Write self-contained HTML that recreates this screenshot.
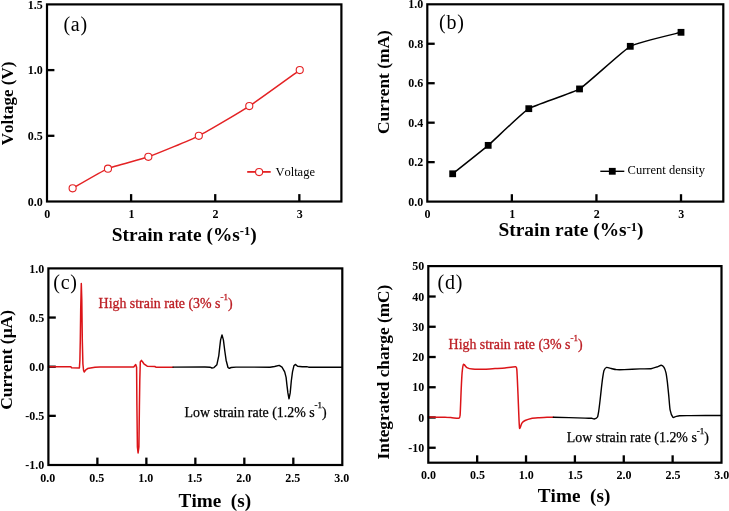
<!DOCTYPE html>
<html><head><meta charset="utf-8"><title>Figure</title>
<style>
html,body{margin:0;padding:0;background:#fff;}
body{width:729px;height:511px;overflow:hidden;}
svg{display:block;will-change:transform;font-family:'Liberation Serif', serif;font-kerning:none;font-feature-settings:'kern' 0,'liga' 0;}
</style></head>
<body>
<svg width="729" height="511" viewBox="0 0 729 511">
<rect width="729" height="511" fill="#fff"/>
<line x1="131.11" y1="201.5" x2="131.11" y2="194.1" stroke="#000" stroke-width="2.3" stroke-linecap="butt"/>
<line x1="215.23" y1="201.5" x2="215.23" y2="194.1" stroke="#000" stroke-width="2.3" stroke-linecap="butt"/>
<line x1="299.34" y1="201.5" x2="299.34" y2="194.1" stroke="#000" stroke-width="2.3" stroke-linecap="butt"/>
<line x1="47" y1="135.8" x2="54.4" y2="135.8" stroke="#000" stroke-width="2.3" stroke-linecap="butt"/>
<line x1="47" y1="70.1" x2="54.4" y2="70.1" stroke="#000" stroke-width="2.3" stroke-linecap="butt"/>
<rect x="47" y="4.4" width="294.4" height="197.1" fill="none" stroke="#000" stroke-width="2.2"/>
<text x="47.3" y="217.6" font-size="12" font-weight="bold" text-anchor="middle" fill="#000" >0</text>
<text x="131.41" y="217.6" font-size="12" font-weight="bold" text-anchor="middle" fill="#000" >1</text>
<text x="215.53" y="217.6" font-size="12" font-weight="bold" text-anchor="middle" fill="#000" >2</text>
<text x="299.64" y="217.6" font-size="12" font-weight="bold" text-anchor="middle" fill="#000" >3</text>
<text x="42.8" y="205.6" font-size="12" font-weight="bold" text-anchor="end" fill="#000" >0.0</text>
<text x="42.8" y="139.9" font-size="12" font-weight="bold" text-anchor="end" fill="#000" >0.5</text>
<text x="42.8" y="74.2" font-size="12" font-weight="bold" text-anchor="end" fill="#000" >1.0</text>
<text x="42.8" y="8.5" font-size="12" font-weight="bold" text-anchor="end" fill="#000" >1.5</text>
<text x="111.7" y="240.5" font-size="19.4" font-weight="bold" text-anchor="start" fill="#000" >Strain rate (%s<tspan font-size="12.5" dy="-5.6">-1</tspan><tspan dy="5.6">)</tspan></text>
<text transform="translate(13.4,145.2) rotate(-90)" font-size="17.0" font-weight="bold" fill="#000">Voltage (V)</text>
<text x="63.4" y="30.6" font-size="20" font-weight="normal" text-anchor="start" fill="#000" letter-spacing="0.8">(a)</text>
<path d="M72.63,188.36 C75.58,186.72 101.65,171.28 107.96,168.65 C114.27,166.02 140.77,159.56 148.34,156.82 C155.91,154.09 190.39,140.03 198.81,135.8 C207.22,131.57 240.86,111.58 249.27,106.1 C257.69,100.63 295.54,73.1 299.74,70.1" fill="none" stroke="#e42224" stroke-width="1.5" stroke-linejoin="round" stroke-linecap="round"/>
<circle cx="72.63" cy="188.36" r="3.55" fill="#fff" stroke="#e42224" stroke-width="1.1"/>
<circle cx="107.96" cy="168.65" r="3.55" fill="#fff" stroke="#e42224" stroke-width="1.1"/>
<circle cx="148.34" cy="156.82" r="3.55" fill="#fff" stroke="#e42224" stroke-width="1.1"/>
<circle cx="198.81" cy="135.8" r="3.55" fill="#fff" stroke="#e42224" stroke-width="1.1"/>
<circle cx="249.27" cy="106.1" r="3.55" fill="#fff" stroke="#e42224" stroke-width="1.1"/>
<circle cx="299.74" cy="70.1" r="3.55" fill="#fff" stroke="#e42224" stroke-width="1.1"/>
<line x1="247.2" y1="171.9" x2="270.7" y2="171.9" stroke="#e42224" stroke-width="1.8" stroke-linecap="butt"/>
<circle cx="259.1" cy="172.1" r="3.55" fill="#fff" stroke="#e42224" stroke-width="1.1"/>
<text x="275.4" y="175.6" font-size="12.5" font-weight="normal" text-anchor="start" fill="#000" >Voltage</text>
<line x1="511.87" y1="201.6" x2="511.87" y2="194.2" stroke="#000" stroke-width="2.3" stroke-linecap="butt"/>
<line x1="596.44" y1="201.6" x2="596.44" y2="194.2" stroke="#000" stroke-width="2.3" stroke-linecap="butt"/>
<line x1="681.01" y1="201.6" x2="681.01" y2="194.2" stroke="#000" stroke-width="2.3" stroke-linecap="butt"/>
<line x1="427.3" y1="162.14" x2="434.7" y2="162.14" stroke="#000" stroke-width="2.3" stroke-linecap="butt"/>
<line x1="427.3" y1="122.68" x2="434.7" y2="122.68" stroke="#000" stroke-width="2.3" stroke-linecap="butt"/>
<line x1="427.3" y1="83.22" x2="434.7" y2="83.22" stroke="#000" stroke-width="2.3" stroke-linecap="butt"/>
<line x1="427.3" y1="43.76" x2="434.7" y2="43.76" stroke="#000" stroke-width="2.3" stroke-linecap="butt"/>
<rect x="427.3" y="4.3" width="296" height="197.3" fill="none" stroke="#000" stroke-width="2.2"/>
<text x="427.6" y="217.6" font-size="12" font-weight="bold" text-anchor="middle" fill="#000" >0</text>
<text x="512.17" y="217.6" font-size="12" font-weight="bold" text-anchor="middle" fill="#000" >1</text>
<text x="596.74" y="217.6" font-size="12" font-weight="bold" text-anchor="middle" fill="#000" >2</text>
<text x="681.31" y="217.6" font-size="12" font-weight="bold" text-anchor="middle" fill="#000" >3</text>
<text x="423.2" y="205.7" font-size="12" font-weight="bold" text-anchor="end" fill="#000" >0.0</text>
<text x="423.2" y="166.24" font-size="12" font-weight="bold" text-anchor="end" fill="#000" >0.2</text>
<text x="423.2" y="126.78" font-size="12" font-weight="bold" text-anchor="end" fill="#000" >0.4</text>
<text x="423.2" y="87.32" font-size="12" font-weight="bold" text-anchor="end" fill="#000" >0.6</text>
<text x="423.2" y="47.86" font-size="12" font-weight="bold" text-anchor="end" fill="#000" >0.8</text>
<text x="423.2" y="8.4" font-size="12" font-weight="bold" text-anchor="end" fill="#000" >1.0</text>
<text x="498.5" y="236.4" font-size="19.4" font-weight="bold" text-anchor="start" fill="#000" >Strain rate (%s<tspan font-size="12.5" dy="-5.6">-1</tspan><tspan dy="5.6">)</tspan></text>
<text transform="translate(389.2,134.0) rotate(-90)" font-size="17.4" font-weight="bold" fill="#000">Current (mA)</text>
<text x="439" y="28.8" font-size="20" font-weight="normal" text-anchor="start" fill="#000" letter-spacing="0.8">(b)</text>
<path d="M452.67,173.78 C455.04,171.89 483.12,149.71 488.19,145.37 C493.27,141.03 522.7,112.43 528.79,108.67 C534.87,104.91 572.76,93.1 579.53,88.94 C586.29,84.79 623.51,50.1 630.27,46.32 C637.04,42.55 677.63,33.25 681.01,32.32" fill="none" stroke="#000" stroke-width="1.5" stroke-linejoin="round" stroke-linecap="round"/>
<rect x="449.27" y="170.38" width="6.8" height="6.8" fill="#000"/>
<rect x="484.79" y="141.97" width="6.8" height="6.8" fill="#000"/>
<rect x="525.39" y="105.27" width="6.8" height="6.8" fill="#000"/>
<rect x="576.13" y="85.54" width="6.8" height="6.8" fill="#000"/>
<rect x="626.87" y="42.92" width="6.8" height="6.8" fill="#000"/>
<rect x="677.61" y="28.92" width="6.8" height="6.8" fill="#000"/>
<line x1="600.3" y1="171.3" x2="624.3" y2="171.3" stroke="#000" stroke-width="1.4" stroke-linecap="butt"/>
<rect x="608.9" y="167.9" width="6.8" height="6.8" fill="#000"/>
<text x="627.6" y="173.6" font-size="12.5" font-weight="normal" text-anchor="start" fill="#000" >Current density</text>
<line x1="97.38" y1="465" x2="97.38" y2="457.6" stroke="#000" stroke-width="2.3" stroke-linecap="butt"/>
<line x1="146.37" y1="465" x2="146.37" y2="457.6" stroke="#000" stroke-width="2.3" stroke-linecap="butt"/>
<line x1="195.35" y1="465" x2="195.35" y2="457.6" stroke="#000" stroke-width="2.3" stroke-linecap="butt"/>
<line x1="244.33" y1="465" x2="244.33" y2="457.6" stroke="#000" stroke-width="2.3" stroke-linecap="butt"/>
<line x1="293.32" y1="465" x2="293.32" y2="457.6" stroke="#000" stroke-width="2.3" stroke-linecap="butt"/>
<line x1="48.4" y1="415.85" x2="55.8" y2="415.85" stroke="#000" stroke-width="2.3" stroke-linecap="butt"/>
<line x1="48.4" y1="366.7" x2="55.8" y2="366.7" stroke="#000" stroke-width="2.3" stroke-linecap="butt"/>
<line x1="48.4" y1="317.55" x2="55.8" y2="317.55" stroke="#000" stroke-width="2.3" stroke-linecap="butt"/>
<text x="47.8" y="481.6" font-size="12" font-weight="bold" text-anchor="middle" fill="#000" >0.0</text>
<text x="96.78" y="481.6" font-size="12" font-weight="bold" text-anchor="middle" fill="#000" >0.5</text>
<text x="145.77" y="481.6" font-size="12" font-weight="bold" text-anchor="middle" fill="#000" >1.0</text>
<text x="194.75" y="481.6" font-size="12" font-weight="bold" text-anchor="middle" fill="#000" >1.5</text>
<text x="243.73" y="481.6" font-size="12" font-weight="bold" text-anchor="middle" fill="#000" >2.0</text>
<text x="292.72" y="481.6" font-size="12" font-weight="bold" text-anchor="middle" fill="#000" >2.5</text>
<text x="341.7" y="481.6" font-size="12" font-weight="bold" text-anchor="middle" fill="#000" >3.0</text>
<text x="44.2" y="469.1" font-size="12" font-weight="bold" text-anchor="end" fill="#000" >-1.0</text>
<text x="44.2" y="419.95" font-size="12" font-weight="bold" text-anchor="end" fill="#000" >-0.5</text>
<text x="44.2" y="370.8" font-size="12" font-weight="bold" text-anchor="end" fill="#000" >0.0</text>
<text x="44.2" y="321.65" font-size="12" font-weight="bold" text-anchor="end" fill="#000" >0.5</text>
<text x="44.2" y="272.5" font-size="12" font-weight="bold" text-anchor="end" fill="#000" >1.0</text>
<text x="178.6" y="506.5" font-size="19.2" font-weight="bold" text-anchor="start" fill="#000" >Time&#160;&#160;(s)</text>
<text transform="translate(11.9,409.8) rotate(-90)" font-size="17.5" font-weight="bold" fill="#000">Current (&#956;A)</text>
<text x="53.2" y="288.8" font-size="20" font-weight="normal" text-anchor="start" fill="#000" letter-spacing="0.8">(c)</text>
<polyline points="48.4,366.8 71,366.8 71.6,367.8 79.4,367.9 79.9,360 80.3,340 80.7,310 81.3,283.5 81.8,300 82.3,340 82.9,364 83.6,370.5 84.2,372 85.5,370.2 87.6,368.6 92,367.8 95,367.2 100,366.9 133.7,366.9 135.7,364.6 136.6,367.2 136.9,405 137.4,447 138.1,453 138.9,447 139.4,407 139.8,380 140.3,362 141.4,360.4 142.5,361.8 143.9,363.8 147.2,366.2 154.8,366.5 155.9,367.2 173,367.2" fill="none" stroke="#dc1418" stroke-width="1.5" stroke-linejoin="round" stroke-linecap="round"/>
<polyline points="173,367.1 205,367 210,367.2 211.9,368 214,367.6 216.9,364.7 218.8,355.6 219.7,347.3 220.6,339.9 222,334.9 223.4,339.9 224.8,351 226.1,360.2 228,367.5 229.3,368.4 231.2,367.5 236,367.1 270,367.2 274.6,366.5 279.2,365.4 282,367.2 284.7,371.8 286.1,377.3 287,385.6 287.9,392.9 289,398.9 290.2,392.9 291.3,381 292.5,371.8 293.9,365.8 295.3,364.4 297.6,366.3 302.2,366.7 306.8,366.7 308.6,367.2 342.3,367.2" fill="none" stroke="#000" stroke-width="1.4" stroke-linejoin="round" stroke-linecap="round"/>
<rect x="48.4" y="268.4" width="293.9" height="196.6" fill="none" stroke="#000" stroke-width="2.2"/>
<text x="98.6" y="308" font-size="13.9" font-weight="normal" text-anchor="start" fill="#bc1c22" stroke="#bc1c22" stroke-width="0.3">High strain rate (3% s<tspan font-size="9" dy="-8.2">-1</tspan><tspan dy="8.2">)</tspan></text>
<text x="184.6" y="416.5" font-size="13.9" font-weight="normal" text-anchor="start" fill="#000" stroke="#000" stroke-width="0.25">Low strain rate (1.2% s<tspan font-size="9" dy="-8.2">-1</tspan><tspan dy="8.2">)</tspan></text>
<line x1="477.17" y1="462.7" x2="477.17" y2="455.3" stroke="#000" stroke-width="2.3" stroke-linecap="butt"/>
<line x1="526.03" y1="462.7" x2="526.03" y2="455.3" stroke="#000" stroke-width="2.3" stroke-linecap="butt"/>
<line x1="574.9" y1="462.7" x2="574.9" y2="455.3" stroke="#000" stroke-width="2.3" stroke-linecap="butt"/>
<line x1="623.77" y1="462.7" x2="623.77" y2="455.3" stroke="#000" stroke-width="2.3" stroke-linecap="butt"/>
<line x1="672.63" y1="462.7" x2="672.63" y2="455.3" stroke="#000" stroke-width="2.3" stroke-linecap="butt"/>
<line x1="428.3" y1="447.75" x2="435.7" y2="447.75" stroke="#000" stroke-width="2.3" stroke-linecap="butt"/>
<line x1="428.3" y1="417.5" x2="435.7" y2="417.5" stroke="#000" stroke-width="2.3" stroke-linecap="butt"/>
<line x1="428.3" y1="387.25" x2="435.7" y2="387.25" stroke="#000" stroke-width="2.3" stroke-linecap="butt"/>
<line x1="428.3" y1="357.01" x2="435.7" y2="357.01" stroke="#000" stroke-width="2.3" stroke-linecap="butt"/>
<line x1="428.3" y1="326.76" x2="435.7" y2="326.76" stroke="#000" stroke-width="2.3" stroke-linecap="butt"/>
<line x1="428.3" y1="296.52" x2="435.7" y2="296.52" stroke="#000" stroke-width="2.3" stroke-linecap="butt"/>
<text x="428.6" y="478.9" font-size="12" font-weight="bold" text-anchor="middle" fill="#000" >0.0</text>
<text x="477.47" y="478.9" font-size="12" font-weight="bold" text-anchor="middle" fill="#000" >0.5</text>
<text x="526.33" y="478.9" font-size="12" font-weight="bold" text-anchor="middle" fill="#000" >1.0</text>
<text x="575.2" y="478.9" font-size="12" font-weight="bold" text-anchor="middle" fill="#000" >1.5</text>
<text x="624.07" y="478.9" font-size="12" font-weight="bold" text-anchor="middle" fill="#000" >2.0</text>
<text x="672.93" y="478.9" font-size="12" font-weight="bold" text-anchor="middle" fill="#000" >2.5</text>
<text x="721.8" y="478.9" font-size="12" font-weight="bold" text-anchor="middle" fill="#000" >3.0</text>
<text x="424.2" y="451.85" font-size="12" font-weight="bold" text-anchor="end" fill="#000" >-10</text>
<text x="424.2" y="421.6" font-size="12" font-weight="bold" text-anchor="end" fill="#000" >0</text>
<text x="424.2" y="391.35" font-size="12" font-weight="bold" text-anchor="end" fill="#000" >10</text>
<text x="424.2" y="361.11" font-size="12" font-weight="bold" text-anchor="end" fill="#000" >20</text>
<text x="424.2" y="330.86" font-size="12" font-weight="bold" text-anchor="end" fill="#000" >30</text>
<text x="424.2" y="300.62" font-size="12" font-weight="bold" text-anchor="end" fill="#000" >40</text>
<text x="424.2" y="270.37" font-size="12" font-weight="bold" text-anchor="end" fill="#000" >50</text>
<text x="537.8" y="501.9" font-size="19.2" font-weight="bold" text-anchor="start" fill="#000" >Time&#160;&#160;(s)</text>
<text transform="translate(388.9,459.4) rotate(-90)" font-size="17.3" font-weight="bold" fill="#000">Integrated charge (mC)</text>
<text x="437.6" y="289.4" font-size="20" font-weight="normal" text-anchor="start" fill="#000" letter-spacing="0.8">(d)</text>
<path d="M428.3,417.1 C429.97,417.11 442.63,417.14 445,417.2 C447.37,417.26 450.63,417.59 452,417.7 C453.37,417.81 457.89,418.54 458.7,418.3 C459.51,418.06 459.85,418.21 460.1,415.3 C460.35,412.39 461,393.45 461.2,389.2 C461.4,384.95 461.87,375.29 462.1,372.8 C462.33,370.31 463.02,364.82 463.5,364.3 C463.98,363.78 466.01,367.12 466.9,367.6 C467.79,368.08 470.59,368.94 472.4,369.1 C474.21,369.26 482.74,369.25 485,369.2 C487.26,369.15 493,368.72 495,368.6 C497,368.48 502.93,368.18 505,368 C507.07,367.82 514.51,366.53 515.7,366.8 C516.89,367.07 516.67,367.96 516.9,370.7 C517.13,373.44 517.81,389.82 518,394.2 C518.19,398.58 518.64,411.09 518.8,414.5 C518.96,417.91 519.29,427.44 519.6,428.3 C519.91,429.16 521.35,423.88 521.9,423.1 C522.45,422.32 524.16,420.97 525.1,420.5 C526.04,420.03 529.89,418.68 531.3,418.4 C532.71,418.12 537.63,417.82 539.2,417.7 C540.77,417.58 545.59,417.25 547,417.2 C548.41,417.15 552.67,417.2 553.3,417.2" fill="none" stroke="#dc1418" stroke-width="1.5" stroke-linejoin="round" stroke-linecap="round"/>
<path d="M553.3,417.2 C556.47,417.29 581.17,417.99 585,418.1 C588.83,418.21 590.68,418.21 591.6,418.3 C592.52,418.39 593.61,419.13 594.2,419 C594.79,418.87 597.04,417.85 597.5,417 C597.96,416.15 598.54,412.2 598.8,410.5 C599.06,408.8 599.84,402.23 600.1,400 C600.36,397.77 601.14,390.43 601.4,388.2 C601.66,385.97 602.44,379.47 602.7,377.7 C602.96,375.93 603.61,371.53 604,370.5 C604.39,369.47 605.88,367.6 606.6,367.4 C607.32,367.2 610.21,368.28 611.2,368.5 C612.19,368.72 615.19,369.49 616.5,369.6 C617.81,369.71 621.95,369.67 624.3,369.6 C626.65,369.53 637.33,368.99 640,368.9 C642.67,368.81 649.32,368.89 651,368.7 C652.68,368.51 655.77,367.35 656.8,367 C657.83,366.65 660.58,365.17 661.3,365.2 C662.02,365.23 663.53,366.54 664,367.3 C664.47,368.06 665.66,371.29 666,372.8 C666.34,374.31 667.12,380.07 667.4,382.4 C667.68,384.73 668.53,393.36 668.8,396.1 C669.07,398.84 669.69,407.68 670.1,409.8 C670.51,411.92 672.35,416.62 672.9,417.3 C673.45,417.98 674.92,416.76 675.6,416.6 C676.28,416.44 678.26,415.8 679.7,415.7 C681.14,415.6 685.82,415.62 690,415.6 C694.18,415.58 718.35,415.51 721.5,415.5" fill="none" stroke="#000" stroke-width="1.4" stroke-linejoin="round" stroke-linecap="round"/>
<rect x="428.3" y="266.1" width="293.2" height="196.6" fill="none" stroke="#000" stroke-width="2.2"/>
<text x="448.6" y="348.7" font-size="13.9" font-weight="normal" text-anchor="start" fill="#bc1c22" stroke="#bc1c22" stroke-width="0.3">High strain rate (3% s<tspan font-size="9" dy="-8.2">-1</tspan><tspan dy="8.2">)</tspan></text>
<text x="566.8" y="441.9" font-size="13.9" font-weight="normal" text-anchor="start" fill="#000" stroke="#000" stroke-width="0.25">Low strain rate (1.2% s<tspan font-size="9" dy="-8.2">-1</tspan><tspan dy="8.2">)</tspan></text>
</svg>
</body></html>
